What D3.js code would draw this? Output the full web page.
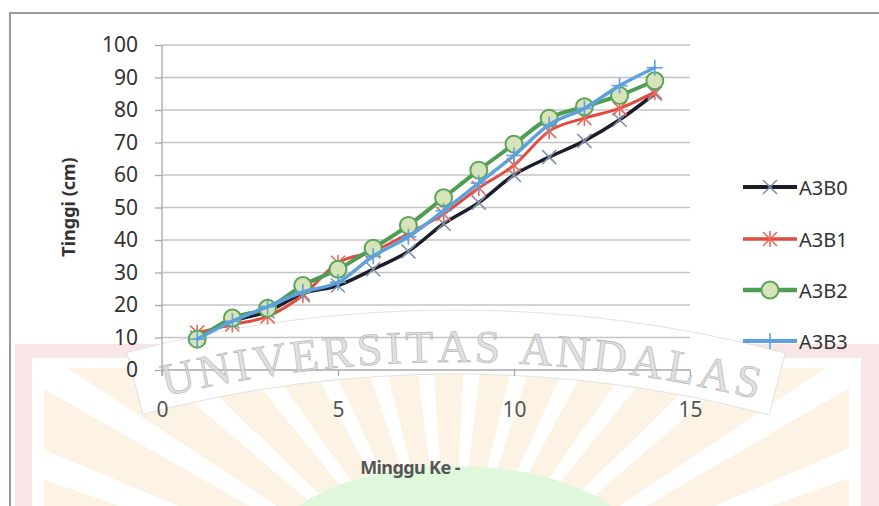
<!DOCTYPE html>
<html>
<head>
<meta charset="utf-8">
<script src="https://cdn.jsdelivr.net/npm/d3@7"></script>
<style>
  html, body { margin: 0; padding: 0; background: #fff; }
  svg { display: block; }
</style>
</head>
<body>
<svg id="chart" width="879" height="506"></svg>
<script>
// Plant height (cm) per week for four treatments
const weeks = [1, 2, 3, 4, 5, 6, 7, 8, 9, 10, 11, 12, 13, 14];
const A3B0 = [10, 15, 18, 23.5, 26, 31, 36.5, 45, 51.5, 60, 65.5, 70.5, 77, 85];
const A3B1 = [11.5, 14, 16.5, 23, 33, 36.5, 42, 48, 56, 63, 73.5, 77.5, 80.5, 85.5];
const A3B2 = [9.5, 16, 19, 26, 31, 37.5, 44.5, 53, 61.5, 69.5, 77.5, 81, 84.5, 89];
const A3B3 = [9.5, 15, 19.5, 24, 27, 35, 41, 49, 57.5, 66, 75.5, 80.5, 87.5, 93];
const seriesNames = ["A3B0", "A3B1", "A3B2", "A3B3"];
const xTicks = [0, 5, 10, 15];
const yTicks = [0, 10, 20, 30, 40, 50, 60, 70, 80, 90, 100];
const xTitle = "Minggu Ke -";
const yTitle = "Tinggi (cm)";
const watermark = "UNIVERSITAS ANDALAS";

const styles = {
  A3B0: { line: "#1c1d2b", width: 3.5, marker: "x", mColor: "#8391a8" },
  A3B1: { line: "#e04a3f", width: 3, marker: "star", mColor: "#e8695c" },
  A3B2: { line: "#4f9d54", width: 4, marker: "circle", mColor: "#5aa55a", fill: "#d7e3b8" },
  A3B3: { line: "#5ea0dc", width: 3.5, marker: "plus", mColor: "#5ea0dc" }
};
const values = { A3B0, A3B1, A3B2, A3B3 };

const svg = d3.select("#chart");
const W = 879, H = 506;
const font = "'Noto Sans', 'Open Sans', sans-serif";

// ---------- background emblem ----------
const bg = svg.append("g");
bg.append("rect").attr("x", 15).attr("y", 344).attr("width", W - 15).attr("height", H - 344).attr("fill", "#f8e6e6");
bg.append("rect").attr("x", 32).attr("y", 358).attr("width", W - 50).attr("height", H - 358).attr("fill", "#ffffff");

const defs = svg.append("defs");
defs.append("clipPath").attr("id", "rayClip")
  .append("rect").attr("x", 44).attr("y", 368).attr("width", W - 74).attr("height", H - 368);

// sun rays
const rayCenter = [450, 620];
const rays = bg.append("g").attr("clip-path", "url(#rayClip)");
const nRays = 17;
for (let i = 0; i < nRays; i++) {
  const r0a = -Math.PI + (i + 0.15) * Math.PI / nRays;
  const r1a = -Math.PI + (i + 0.8) * Math.PI / nRays;
  const r0 = 120, r1 = 700;
  const p = d3.path();
  p.moveTo(rayCenter[0] + r0 * Math.cos(r0a), rayCenter[1] + r0 * Math.sin(r0a));
  p.lineTo(rayCenter[0] + r1 * Math.cos(r0a), rayCenter[1] + r1 * Math.sin(r0a));
  p.lineTo(rayCenter[0] + r1 * Math.cos(r1a), rayCenter[1] + r1 * Math.sin(r1a));
  p.lineTo(rayCenter[0] + r0 * Math.cos(r1a), rayCenter[1] + r0 * Math.sin(r1a));
  p.closePath();
  rays.append("path").attr("d", p.toString()).attr("fill", "#fdf3e5");
}
// green mound
bg.append("ellipse").attr("cx", 455).attr("cy", 552).attr("rx", 185).attr("ry", 86).attr("fill", "#dff7db");

// arched banner with the university name
const arcC = [455, 1600], Rt = 1238;
const angOf = xx => Math.asin((xx - arcC[0]) / Rt);
const bandArc = d3.arc().innerRadius(Rt - 12).outerRadius(Rt + 52)
  .startAngle(angOf(140)).endAngle(angOf(772));
bg.append("path").attr("transform", `translate(${arcC[0]},${arcC[1]})`)
  .attr("d", bandArc()).attr("fill", "#ffffff").attr("stroke", "#e2e2e2").attr("stroke-width", 1);

// ---------- chart ----------
const x = d3.scaleLinear().domain([0, 15]).range([162, 690]);
const y = d3.scaleLinear().domain([0, 100]).range([370, 45]);

// frame
svg.append("path").attr("d", `M10,${H} L10,13 L${W},13`).attr("fill", "none")
  .attr("stroke", "#9a9a9a").attr("stroke-width", 2);

// gridlines
svg.append("g").selectAll("line").data(yTicks.filter(d => d > 0)).join("line")
  .attr("x1", x(0)).attr("x2", x(15)).attr("y1", d => y(d)).attr("y2", d => y(d))
  .attr("stroke", "#c4c4c4").attr("stroke-width", 1.3);

// y axis
const yAxis = svg.append("g").attr("transform", `translate(${x(0)},0)`)
  .call(d3.axisLeft(y).tickValues(yTicks).tickSize(7).tickPadding(17));
yAxis.select(".domain").attr("stroke", "#a8a8a8").attr("stroke-width", 1.3).attr("d", `M0,${y(100)}V${y(0) + 6}`);
yAxis.selectAll(".tick line").attr("stroke", "#a8a8a8").attr("stroke-width", 1.3);
yAxis.selectAll(".tick text").attr("font-family", font).attr("font-size", 21).attr("fill", "#333");

// x axis
const xAxis = svg.append("g").attr("transform", `translate(0,${y(0)})`)
  .call(d3.axisBottom(x).tickValues(xTicks).tickSize(6).tickPadding(26));
xAxis.select(".domain").attr("stroke", "#a8a8a8").attr("stroke-width", 1.3).attr("d", `M${x(0)},0H${x(15)}`);
xAxis.selectAll(".tick line").attr("stroke", "#a8a8a8").attr("stroke-width", 1.3);
xAxis.selectAll(".tick text").attr("font-family", font).attr("font-size", 21).attr("fill", "#555");

// axis titles
svg.append("text").attr("transform", "translate(68,207) rotate(-90)")
  .attr("text-anchor", "middle").attr("dominant-baseline", "central")
  .attr("font-family", font).attr("font-weight", "bold").attr("font-size", 18).attr("fill", "#333")
  .text(yTitle);
svg.append("text").attr("x", 410).attr("y", 467)
  .attr("text-anchor", "middle").attr("dominant-baseline", "central")
  .attr("font-family", font).attr("font-weight", "bold").attr("font-size", 18).attr("fill", "#555")
  .attr("letter-spacing", -0.6)
  .text(xTitle);

// markers
function drawMarker(g, kind, cx, cy, st) {
  const s = 7;
  if (kind === "circle") {
    g.append("circle").attr("cx", cx).attr("cy", cy).attr("r", 8.5)
      .attr("fill", st.fill).attr("stroke", st.mColor).attr("stroke-width", 2);
    return;
  }
  const segs = [];
  if (kind === "x" || kind === "star") {
    segs.push([-s, -s, s, s], [-s, s, s, -s]);
  }
  if (kind === "star") segs.push([0, -s - 1, 0, s + 1]);
  if (kind === "plus") segs.push([-s - 1, 0, s + 1, 0], [0, -s - 1, 0, s + 1]);
  segs.forEach(d => g.append("line")
    .attr("x1", cx + d[0]).attr("y1", cy + d[1]).attr("x2", cx + d[2]).attr("y2", cy + d[3])
    .attr("stroke", st.mColor).attr("stroke-width", 1.6));
}

const line = d3.line().curve(d3.curveMonotoneX);
seriesNames.forEach(name => {
  const st = styles[name];
  const pts = weeks.map((w, i) => [x(w), y(values[name][i])]);
  const g = svg.append("g");
  g.append("path").attr("d", line(pts)).attr("fill", "none")
    .attr("stroke", st.line).attr("stroke-width", st.width).attr("stroke-linejoin", "round").attr("stroke-linecap", "round");
  pts.forEach(p => drawMarker(g, st.marker, p[0], p[1], st));
});

// watermark lettering, each glyph placed by its own width along the arch
const wm = svg.append("g")
  .attr("font-family", "'Liberation Serif', 'DejaVu Serif', serif").attr("font-size", 46)
  .attr("fill", "#d6d6d6").attr("fill-opacity", 0.75)
  .attr("stroke", "#a9a9a9").attr("stroke-width", 0.8).attr("stroke-opacity", 0.7)
  .attr("text-anchor", "middle");
const letters = watermark.split("");
const advances = letters.map(ch => {
  const t = wm.append("text").text(ch === " " ? "\u00a0" : ch);
  const w = t.node().getComputedTextLength();
  t.remove();
  return w;
});
const arcStart = 165, arcEnd = 757;
const totalArc = Rt * (angOf(arcEnd) - angOf(arcStart));
const naturalLen = d3.sum(advances);
const spacing = (totalArc - naturalLen) / (letters.length - 1);
let s = 0;
letters.forEach((ch, i) => {
  const mid = s + advances[i] / 2;
  s += advances[i] + spacing;
  if (ch === " ") return;
  const a = angOf(arcStart) + mid / Rt;
  const lx = arcC[0] + Rt * Math.sin(a);
  const ly = arcC[1] - Rt * Math.cos(a);
  wm.append("text")
    .attr("transform", `translate(${lx.toFixed(1)},${ly.toFixed(1)}) rotate(${(a * 180 / Math.PI).toFixed(2)})`)
    .text(ch);
});

// legend
const lg = svg.append("g");
const legendY = [187, 239, 290, 341];
seriesNames.forEach((name, i) => {
  const st = styles[name];
  const ly = legendY[i];
  lg.append("line").attr("x1", 743).attr("x2", 797).attr("y1", ly).attr("y2", ly)
    .attr("stroke", st.line).attr("stroke-width", st.width + 0.5);
  drawMarker(lg, st.marker, 770, ly, st);
  lg.append("text").attr("x", 799).attr("y", ly).attr("dominant-baseline", "central")
    .attr("font-family", font).attr("font-size", 20).attr("fill", "#333").text(name);
});
</script>
</body>
</html>
